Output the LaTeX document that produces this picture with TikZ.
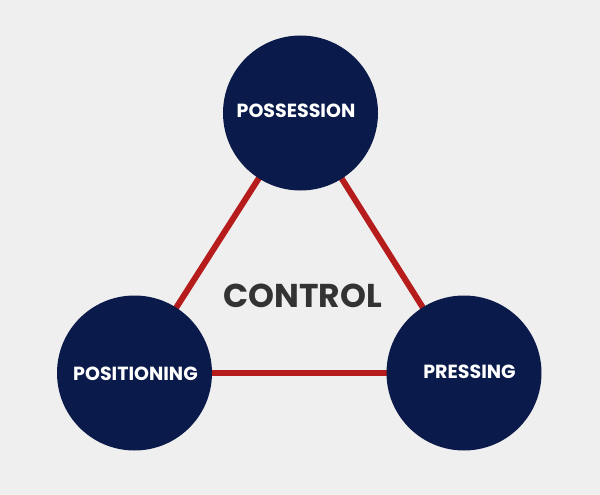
\documentclass[tikz,border=0pt]{standalone}
\usepackage{fontspec}
\setmainfont{Poppins}
\definecolor{bgc}{HTML}{EFEFEF}
\definecolor{navy}{HTML}{0A1A4A}
\definecolor{redl}{HTML}{B71C1C}
\definecolor{ctext}{HTML}{333333}
\tikzset{
  bub/.style={circle, fill=navy, minimum size=155pt, inner sep=0pt},
  blab/.style={text=white, inner sep=0pt, font=\bfseries\fontsize{19}{21}\selectfont},
  link/.style={draw=redl, line width=6pt},
}
\begin{document}
\begin{tikzpicture}[x=1pt,y=-1pt]
\fill[bgc] (0,0) rectangle (600,495);
\useasboundingbox (0,0) rectangle (600,495);
\coordinate (cA) at (300.5,113);
\coordinate (cB) at (134.5,373);
\coordinate (cC) at (464,373);
\draw[link] (cA) -- (cB);
\draw[link] (cA) -- (cC);
\draw[link] (cB) -- (cC);
\node[bub] (pos) at (cA) {};
\node[bub] (posi) at (cB) {};
\node[bub] (pre) at (cC) {};
\node[blab] (lpos) at (296,111) {POSSESSION};
\node[blab] (lposi) at (135.5,374) {POSITIONING};
\node[blab] (lpre) at (469.5,372) {PRESSING};
\node[text=ctext, inner sep=0pt, font=\bfseries\fontsize{33}{36}\selectfont] (ctl) at (302.5,296) {CONTROL};
\end{tikzpicture}
\end{document}
